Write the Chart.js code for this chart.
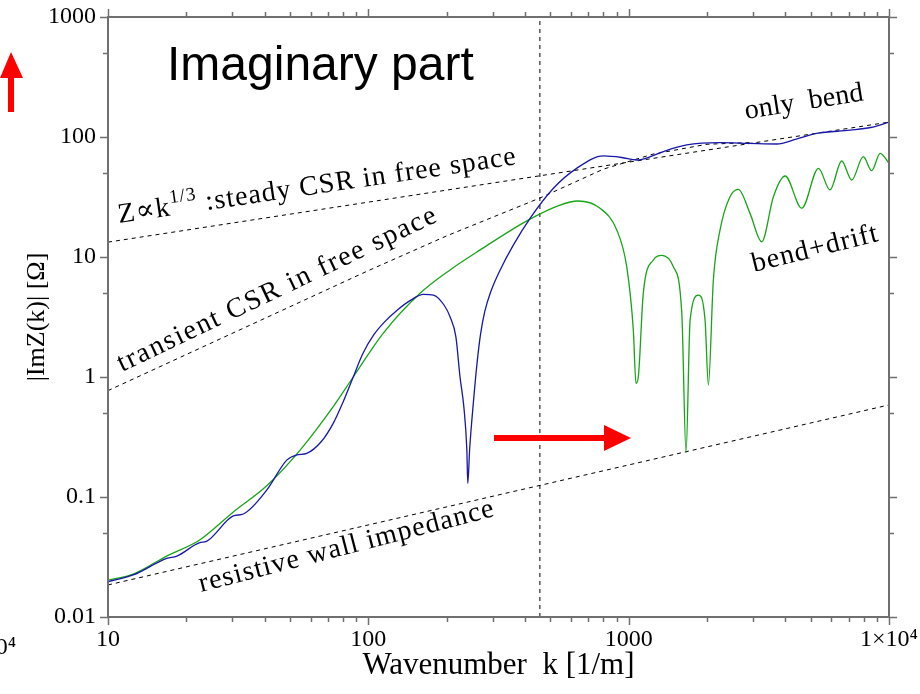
<!DOCTYPE html>
<html>
<head>
<meta charset="utf-8">
<script src="https://cdn.jsdelivr.net/npm/chart.js@4.4.1/dist/chart.umd.min.js"></script>
<style>
  html, body { margin: 0; padding: 0; background: #fff; }
  #wrap { position: relative; width: 920px; height: 694px; }
</style>
</head>
<body>
<div id="wrap"><canvas id="chart" width="920" height="694"></canvas></div>
<script>
// wavenumber k [1/m] and |ImZ(k)| [Ohm]

// "only bend"
const kBend = [10, 12.5, 16.8, 18.4, 22.5, 23.9, 30.3, 33.1, 40.7, 48.6, 53.1, 58.0, 66, 73.3, 80, 87.5, 95,
               105, 115, 130, 145, 163, 178, 195, 206, 217, 225, 233, 239, 241, 245, 253, 262, 270, 280, 295, 321,
               360, 418, 514, 631, 800, 940, 1074, 1200, 1359, 1671, 2244, 2900, 3706, 4400, 5277, 7080, 8500, 10000];
const zBend = [0.0197, 0.0224, 0.0308, 0.0322, 0.0416, 0.0427, 0.0695, 0.0722, 0.114, 0.203, 0.224, 0.231, 0.29, 0.411, 0.62, 1.0, 1.55,
               2.25, 2.85, 3.65, 4.35, 4.89, 4.82, 4.0, 3.18, 2.15, 1.0, 0.55, 0.246, 0.130, 0.25, 0.60, 1.35, 2.3, 3.5, 5.1, 7.8,
               12.5, 21.0, 37.4, 54.8, 69.5, 67.5, 64.3, 68, 75.5, 85.8, 89.7, 88.5, 87.4, 96, 107, 114, 120, 133];

// "bend+drift"
const kDrift = [10, 12.5, 16.8, 22.5, 30.3, 40.7, 54.7, 73.3, 87.5, 114, 158, 206, 268, 411, 545, 638, 776,
                900, 983, 1042, 1067, 1089, 1138, 1244, 1340, 1485, 1600, 1661, 1722, 1854, 1965, 2024, 2115,
                2244, 2450, 2638, 2925, 3245, 3597, 3990, 4624, 5358, 5934, 6580, 7190, 7968, 8580, 9250, 10000];
const zDrift = [0.0203, 0.0228, 0.0322, 0.0438, 0.075, 0.124, 0.246, 0.566, 1.0, 2.31, 4.98, 7.8, 11.4, 20.3, 27.1, 29.3, 25.5,
                16.8, 8.3, 2.46, 0.886, 1.0, 4.98, 9.44, 10.3, 8.3, 3.40, 0.233, 2.99, 4.82, 2.99, 0.858, 6.43,
                16.8, 31.8, 36.6, 23.1, 13.4, 31.8, 47.3, 25.5, 54.8, 36.2, 63.1, 43.8, 68.5, 52.4, 73.1, 60.4];

// dashed guide lines
const kSteady = [10, 10000];
const zSteady = [13.3, 133];
const kTransient = [10, 100, 200, 456, 800, 1240, 2000, 3000];
const zTransient = [0.77, 7.7, 15, 31, 54, 72, 87, 90];
const kWall = [10, 10000];
const zWall = [0.0185, 0.585];
const kMark = [456, 456];
const zMark = [0.01, 1000];

// axes
const xTicks = [10, 20, 30, 40, 50, 60, 70, 80, 90,
                100, 200, 300, 400, 500, 600, 700, 800, 900,
                1000, 2000, 3000, 4000, 5000, 6000, 7000, 8000, 9000, 10000];
const xLabels = { 10: '10', 100: '100', 1000: '1000', 10000: '1\u00d710\u2074' };
const yTicks = [0.01, 0.05, 0.1, 0.5, 1, 5, 10, 50, 100, 500, 1000];
const yLabels = { 0.01: '0.01', 0.1: '0.1', 1: '1', 10: '10', 100: '100', 1000: '1000' };

const AXIS = '#707070';
const SERIF = '"Liberation Serif", "DejaVu Serif", serif';

function pts (ks, zs)
{
   return ks.map((k, i) => ({ x: k, y: zs[i] }));
}

function dashed (ks, zs)
{
   return {
      data: pts(ks, zs), borderColor: '#000', borderWidth: 1, borderDash: [4, 4],
      pointRadius: 0, tension: 0, order: 3
   };
}

// text drawn along a slanted baseline, stretched to a given width
function slantText (ctx, pieces, x, y, deg, width)
{
   ctx.save();
   ctx.translate(x, y);
   ctx.rotate(deg * Math.PI / 180);
   ctx.letterSpacing = '0px';
   let natural = 0, n = 0;
   pieces.forEach(p => {
      ctx.font = p.sup ? '19px ' + SERIF : '28px ' + SERIF;
      natural += ctx.measureText(p.t).width;
      n += p.t.length;
   });
   const ls = (width - natural) / n;
   ctx.letterSpacing = ls + 'px';
   ctx.fillStyle = '#000';
   ctx.textBaseline = 'alphabetic';
   let cx = 0;
   pieces.forEach(p => {
      ctx.font = p.sup ? '19px ' + SERIF : '28px ' + SERIF;
      ctx.fillText(p.t, cx, p.sup ? -12 : 0);
      cx += ctx.measureText(p.t).width;
   });
   ctx.restore();
}

function arrow (ctx, pts)
{
   ctx.beginPath();
   ctx.moveTo(pts[0][0], pts[0][1]);
   for (let i = 1; i < pts.length; i++) ctx.lineTo(pts[i][0], pts[i][1]);
   ctx.closePath();
   ctx.fill();
}

const frame = {
   id: 'frame',
   afterDraw (chart)
   {
      const { ctx, chartArea: a, scales: { x, y } } = chart;
      ctx.save();
      ctx.strokeStyle = AXIS;
      ctx.lineWidth = 2;
      ctx.strokeRect(a.left, a.top, a.right - a.left, a.bottom - a.top);
      ctx.lineWidth = 1.5;
      ctx.beginPath();
      xTicks.forEach(v => {
         const px = Math.round(x.getPixelForValue(v)) + 0.5;
         const len = xLabels[v] ? 8 : 5;
         ctx.moveTo(px, a.bottom); ctx.lineTo(px, a.bottom + len);
         ctx.moveTo(px, a.top); ctx.lineTo(px, a.top - len);
      });
      yTicks.forEach(v => {
         const py = Math.round(y.getPixelForValue(v)) + 0.5;
         const len = yLabels[v] ? 8 : 5;
         ctx.moveTo(a.left, py); ctx.lineTo(a.left - len, py);
         ctx.moveTo(a.right, py); ctx.lineTo(a.right + len, py);
      });
      ctx.stroke();

      // title inside the plot
      ctx.fillStyle = '#000';
      ctx.font = '48px "Liberation Sans", Arial, sans-serif';
      ctx.textBaseline = 'alphabetic';
      ctx.fillText('Imaginary part', 167, 80);

      // labels along the curves
      slantText(ctx, [{ t: 'Z\u221dk' }, { t: '1/3', sup: true }, { t: ' :steady CSR in free space' }], 119, 223, -8.4, 403);
      slantText(ctx, [{ t: 'transient CSR in free space' }], 122, 372, -25.5, 352);
      slantText(ctx, [{ t: 'only  bend' }], 746, 119, -9, 120);
      slantText(ctx, [{ t: 'bend+drift' }], 754, 272, -14, 130);
      slantText(ctx, [{ t: 'resistive wall impedance' }], 201, 592, -14.5, 305);

      // leftover label of a neighbouring chart at the left edge
      ctx.font = '24px ' + SERIF;
      ctx.textAlign = 'right';
      ctx.textBaseline = 'middle';
      ctx.fillText('1\u00d710\u2074', 16, 648);

      // red arrows
      ctx.fillStyle = '#ff0000';
      arrow(ctx, [[11, 52], [23, 78], [14, 78], [14, 112], [8, 112], [8, 78], [0, 78]]);
      arrow(ctx, [[494, 435], [604, 435], [604, 425], [631, 438], [604, 451], [604, 441], [494, 441]]);
      ctx.restore();
   }
};

new Chart(document.getElementById('chart'), {
   type: 'line',
   data: {
      datasets: [
         { data: pts(kBend, zBend), borderColor: '#1717a8', borderWidth: 1.3, pointRadius: 0,
           cubicInterpolationMode: 'monotone', order: 1 },
         { data: pts(kDrift, zDrift), borderColor: '#16a516', borderWidth: 1.3, pointRadius: 0,
           cubicInterpolationMode: 'monotone', order: 2 },
         dashed(kSteady, zSteady),
         dashed(kTransient, zTransient),
         dashed(kWall, zWall),
         dashed(kMark, zMark)
      ]
   },
   options: {
      responsive: false,
      animation: false,
      layout: { padding: { top: 17, right: 31, left: 0, bottom: 0 } },
      plugins: { legend: { display: false }, tooltip: { enabled: false } },
      scales: {
         x: {
            type: 'logarithmic', min: 10, max: 10000,
            afterBuildTicks: s => { s.ticks = xTicks.map(v => ({ value: v })); },
            afterFit: s => { s.height = 77; s.paddingLeft = 0; s.paddingRight = 0; },
            grid: { display: false, drawTicks: false },
            border: { display: false },
            ticks: {
               autoSkip: false, maxRotation: 0, padding: 8, color: '#000',
               font: { family: SERIF, size: 24 },
               callback: v => xLabels[v] || ''
            },
            title: {
               display: true, text: 'Wavenumber  k [1/m]', color: '#000',
               font: { family: SERIF, size: 31 }, padding: { top: 0, bottom: 10 }
            }
         },
         y: {
            type: 'logarithmic', min: 0.01, max: 1000,
            afterBuildTicks: s => { s.ticks = yTicks.map(v => ({ value: v })); },
            afterFit: s => { s.width = 108; s.paddingTop = 0; s.paddingBottom = 0; },
            grid: { display: false, drawTicks: false },
            border: { display: false },
            ticks: {
               autoSkip: false, padding: 12, color: '#000',
               font: { family: SERIF, size: 24 },
               callback: v => yLabels[v] || ''
            },
            title: {
               display: true, text: '|ImZ(k)| [\u03a9]', color: '#000',
               font: { family: SERIF, size: 26 }, padding: { top: 22, bottom: 0 }
            }
         }
      }
   },
   plugins: [frame]
});
</script>
</body>
</html>
